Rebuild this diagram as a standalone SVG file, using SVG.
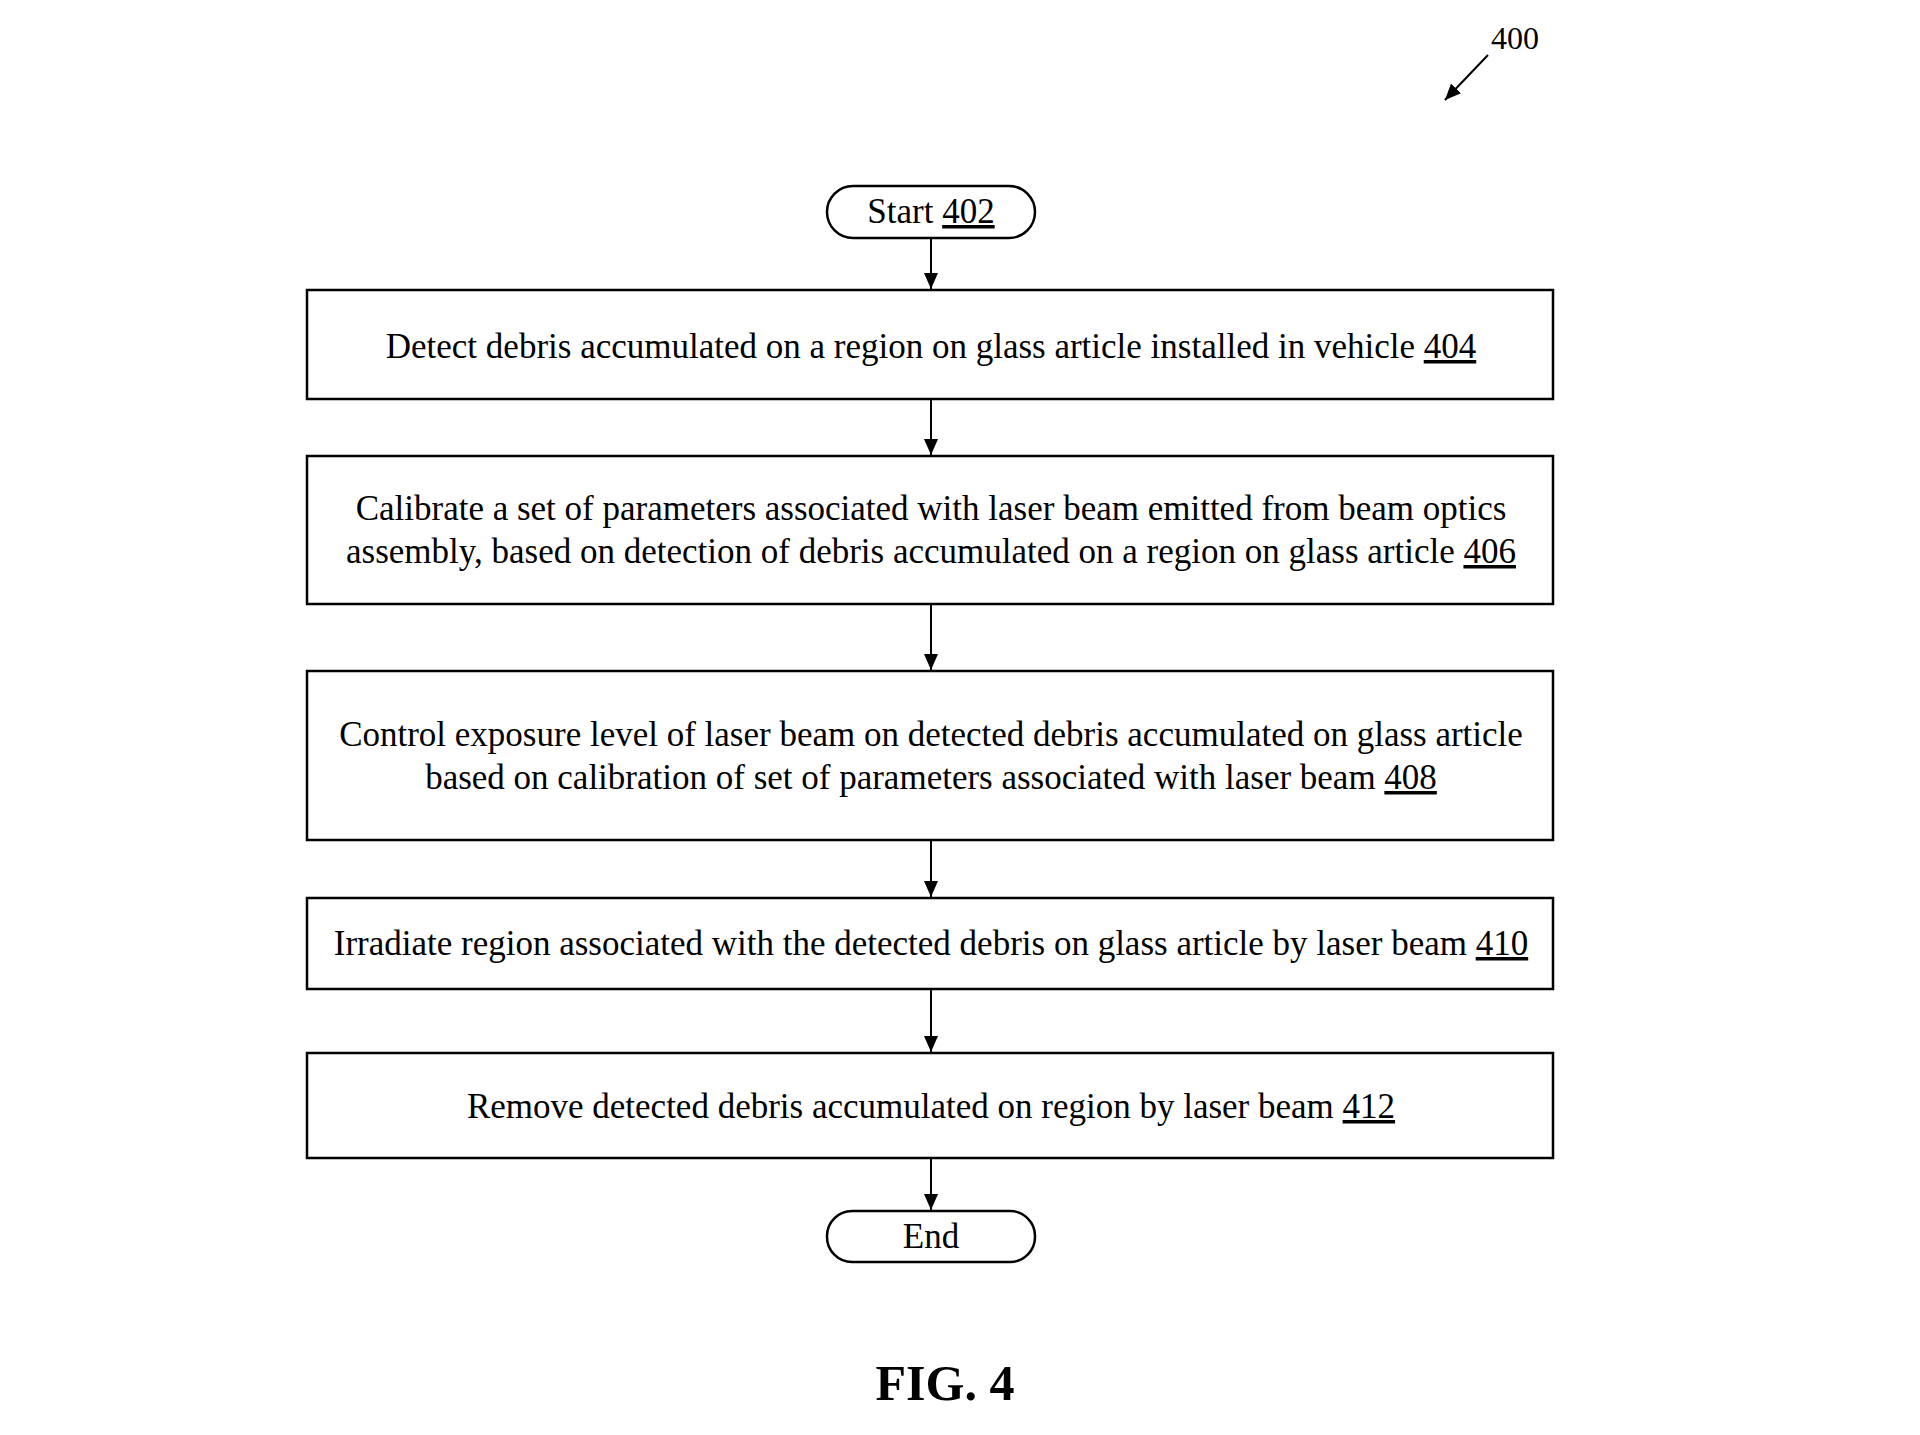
<svg xmlns="http://www.w3.org/2000/svg" width="1920" height="1435" viewBox="0 0 1920 1435">
<defs>
<marker id="ah" viewBox="0 0 10 10" refX="10" refY="5" markerWidth="16" markerHeight="14" markerUnits="userSpaceOnUse" orient="auto" preserveAspectRatio="none"><path d="M0,0 L10,5 L0,10 z" fill="#000"/></marker>
<style>
.b{fill:#fff;stroke:#000;stroke-width:2.5}
.t{font-family:"Liberation Serif",serif;font-size:35px;fill:#000;text-anchor:middle}
.u{text-decoration:underline}
.c{stroke:#000;stroke-width:2;fill:none;marker-end:url(#ah)}
</style>
</defs>
<rect width="1920" height="1435" fill="#fff"/>
<g id="label400">
<text x="1515" y="49" class="t" style="font-size:32px">400</text>
<line x1="1488" y1="55" x2="1445" y2="100" class="c"/>
</g>
<g id="start"><rect x="827" y="186" width="208" height="52" rx="26" class="b"/><text x="931" y="223" class="t">Start <tspan class="u">402</tspan></text></g>
<g id="n404"><rect x="307" y="290" width="1246" height="109" class="b"/><text x="931" y="358" class="t">Detect debris accumulated on a region on glass article installed in vehicle <tspan class="u">404</tspan></text></g>
<g id="n406"><rect x="307" y="456" width="1246" height="148" class="b"/><text x="931" y="520" class="t">Calibrate a set of parameters associated with laser beam emitted from beam optics</text><text x="931" y="563" class="t">assembly, based on detection of debris accumulated on a region on glass article <tspan class="u">406</tspan></text></g>
<g id="n408"><rect x="307" y="671" width="1246" height="169" class="b"/><text x="931" y="746" class="t">Control exposure level of laser beam on detected debris accumulated on glass article</text><text x="931" y="789" class="t">based on calibration of set of parameters associated with laser beam <tspan class="u">408</tspan></text></g>
<g id="n410"><rect x="307" y="898" width="1246" height="91" class="b"/><text x="931" y="955" class="t">Irradiate region associated with the detected debris on glass article by laser beam <tspan class="u">410</tspan></text></g>
<g id="n412"><rect x="307" y="1053" width="1246" height="105" class="b"/><text x="931" y="1118" class="t">Remove detected debris accumulated on region by laser beam <tspan class="u">412</tspan></text></g>
<g id="end"><rect x="827" y="1211" width="208" height="51" rx="25" class="b"/><text x="931" y="1248" class="t">End</text></g>
<g id="connectors">
<line x1="931" y1="238" x2="931" y2="289" class="c"/>
<line x1="931" y1="399" x2="931" y2="455" class="c"/>
<line x1="931" y1="604" x2="931" y2="670" class="c"/>
<line x1="931" y1="840" x2="931" y2="897" class="c"/>
<line x1="931" y1="989" x2="931" y2="1052" class="c"/>
<line x1="931" y1="1158" x2="931" y2="1210" class="c"/>
</g>
<text x="945" y="1400" class="t" style="font-size:50px;font-weight:bold">FIG. 4</text>
</svg>
